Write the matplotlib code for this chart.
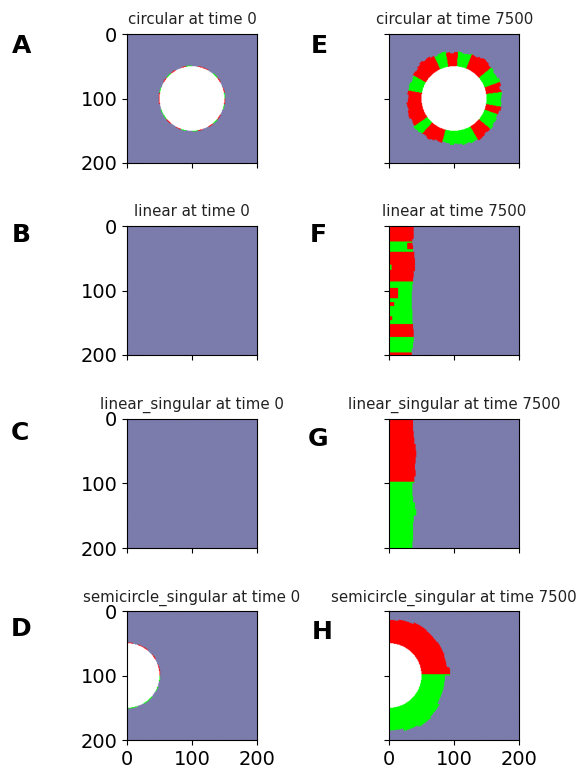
"""
Cell colony snapshots: four initial geometries at time 0 and time 7500.
0 = empty medium, 1 = hole, 2 = red strain, 3 = green strain
"""

import numpy as np
import matplotlib.pyplot as plt
from matplotlib.colors import ListedColormap

N = 200

geometries = ['circular', 'linear', 'linear_singular', 'semicircle_singular']
times = [0, 7500]
panel_letters = [['A', 'E'], ['B', 'F'], ['C', 'G'], ['D', 'H']]
tick_values = [0, 100, 200]

# circular: hole radius and edge colour per 10 deg sector at time 0
hole_radius = 50
circ_edge_t0 = [3, 2, 0, 2, 3, 0, 2, 2, 0, 3, 2, 0, 2, 3, 2, 0, 3, 2,
                2, 0, 3, 3, 2, 0, 2, 3, 0, 3, 2, 0, 2, 3, 2, 0, 3, 2]

# circular at 7500: colour sectors (deg) and outer radius per 5 deg
circ_sector_edges = [0, 8, 20, 40, 68, 85, 100, 115, 150, 170, 215, 228,
                     255, 300, 320, 340, 350, 360]
circ_sector_colors = [3, 2, 3, 2, 3, 2, 3, 2, 3, 2, 3, 2, 3, 2, 3, 2, 3]
circ_outer_radius = [73, 74, 72, 75, 76, 74, 73, 75, 74, 76, 77, 75,
                     73, 74, 72, 71, 73, 72, 70, 72, 74, 73, 71, 73,
                     75, 74, 76, 74, 72, 73, 71, 70, 72, 71, 72, 70,
                     71, 73, 72, 74, 75, 73, 74, 76, 75, 73, 72, 74,
                     72, 70, 71, 69, 70, 72, 70, 71, 73, 72, 74, 73,
                     75, 74, 72, 73, 74, 72, 73, 71, 72, 74, 73, 72]

# linear at 7500: row bands, front width per 10 rows, extra patches
lin_band_rows = [0, 24, 40, 86, 96, 112, 152, 172, 196, 200]
lin_band_colors = [2, 3, 2, 3, 2, 3, 2, 3, 2]
lin_front_width = [38, 38, 36, 37, 39, 40, 40, 38, 37, 36,
                   35, 35, 35, 36, 36, 37, 38, 38, 37, 35]
lin_patches = [(26, 36, 28, 40, 2), (96, 112, 14, 40, 3), (118, 124, 0, 8, 2),
               (60, 68, 0, 4, 3), (140, 146, 0, 5, 2)]

# linear_singular at 7500: red above split row, green below
sing_split_row = 98
sing_front_width = [37, 37, 38, 39, 41, 42, 41, 40, 41, 39,
                    36, 36, 37, 40, 42, 38, 37, 37, 37, 36]

# semicircle: edge colour per 10 deg from -90 at time 0
semi_edge_t0 = [3, 3, 0, 3, 3, 0, 3, 0, 3, 2, 2, 0, 2, 0, 2, 2, 0, 2]
# semicircle at 7500: outer radius per angular sector
semi_sector_edges = [-90, -75, -60, -45, -30, -15, 0, 8, 20, 35, 50, 65, 80, 90]
semi_outer_radius = [85, 89, 92, 90, 86, 86, 94, 90, 91, 90, 91, 88, 86]

colony_cmap = ListedColormap(['#7b7cac', 'white', '#ff0000', '#00ff00'])

yy, xx = np.mgrid[0:N, 0:N]


def polar(cx, cy):
    dx = xx + 0.5 - cx
    dy = cy - (yy + 0.5)
    return np.hypot(dx, dy), np.degrees(np.arctan2(dy, dx))


def circular(t):
    grid = np.zeros((N, N), dtype=int)
    r, th = polar(100, 100)
    th = th % 360
    if t == 0:
        edge = (r >= hole_radius) & (r < hole_radius + 1.2)
        sec = (th // 10).astype(int)
        grid[edge] = np.array(circ_edge_t0)[sec][edge]
    else:
        outer = np.array(circ_outer_radius)[(th // 5).astype(int)]
        ring = (r >= hole_radius) & (r < outer)
        idx = np.searchsorted(circ_sector_edges, th, side='right') - 1
        grid[ring] = np.array(circ_sector_colors)[idx][ring]
    grid[r < hole_radius] = 1
    return grid


def linear(t):
    grid = np.zeros((N, N), dtype=int)
    if t == 0:
        return grid
    width = np.array(lin_front_width)[yy // 10]
    idx = np.searchsorted(lin_band_rows, yy, side='right') - 1
    front = xx < width
    grid[front] = np.array(lin_band_colors)[idx][front]
    for r0, r1, c0, c1, col in lin_patches:
        block = grid[r0:r1, c0:c1]
        block[block > 0] = col
    return grid


def linear_singular(t):
    grid = np.zeros((N, N), dtype=int)
    if t == 0:
        return grid
    width = np.array(sing_front_width)[yy // 10]
    front = xx < width
    grid[front & (yy < sing_split_row)] = 2
    grid[front & (yy >= sing_split_row)] = 3
    return grid


def semicircle_singular(t):
    grid = np.zeros((N, N), dtype=int)
    r, th = polar(0, 100)
    if t == 0:
        edge = (r >= hole_radius) & (r < hole_radius + 1.2)
        sec = np.clip(((th + 90) // 10).astype(int), 0, len(semi_edge_t0) - 1)
        grid[edge] = np.array(semi_edge_t0)[sec][edge]
    else:
        idx = np.clip(np.searchsorted(semi_sector_edges, th, side='right') - 1,
                      0, len(semi_outer_radius) - 1)
        outer = np.array(semi_outer_radius)[idx]
        ring = (r >= hole_radius) & (r < outer)
        grid[ring & (yy < sing_split_row)] = 2
        grid[ring & (yy >= sing_split_row)] = 3
    grid[r < hole_radius] = 1
    return grid


builders = {'circular': circular, 'linear': linear,
            'linear_singular': linear_singular,
            'semicircle_singular': semicircle_singular}

W, H = 579, 778
fig = plt.figure(figsize=(W / 100, H / 100), dpi=100)

col_left = [127, 389.3]
row_top = [34, 226, 419, 611.3]
box_w, box_h = 130, 129
label_pos = [[(12, 52.7), (311, 53.3)], [(12, 241.7), (310, 241.7)],
             [(11, 440), (308, 445.7)], [(11, 636), (312, 639.3)]]

for i, geo in enumerate(geometries):
    for j, t in enumerate(times):
        ax = fig.add_axes([col_left[j] / W, 1 - (row_top[i] + box_h) / H,
                           box_w / W, box_h / H])
        ax.imshow(builders[geo](t), cmap=colony_cmap, vmin=0, vmax=3,
                  extent=(0, N, N, 0), aspect='auto')
        ax.set_xticks(tick_values)
        ax.set_yticks(tick_values)
        ax.tick_params(labelsize=14)
        if j == 1:
            ax.set_yticklabels([])
        if i < len(geometries) - 1:
            ax.set_xticklabels([])
        ax.set_title(f'{geo} at time {t}', fontsize=10.8, color='#222222',
                     pad=7)
        lx, ly = label_pos[i][j]
        fig.text(lx / W, 1 - ly / H, panel_letters[i][j], fontsize=18,
                 fontweight='bold', va='baseline', ha='left')

fig.savefig('out.png', dpi=100)
